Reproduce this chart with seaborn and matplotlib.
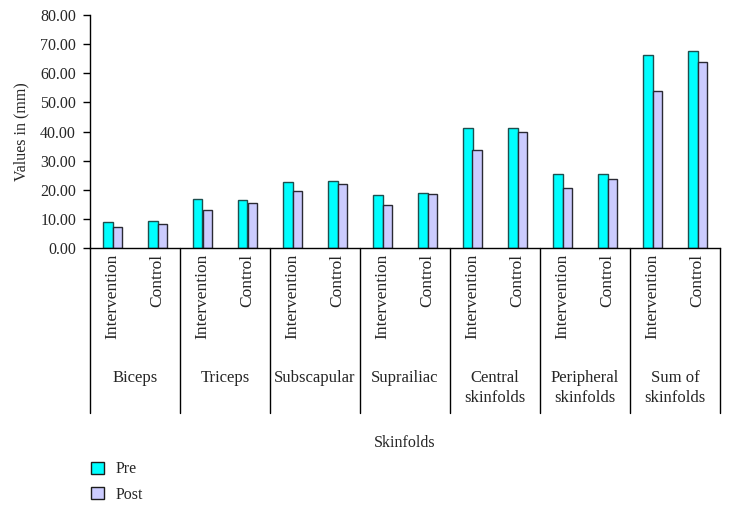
import matplotlib
matplotlib.use('Agg')
import matplotlib.pyplot as plt
import seaborn as sns
import pandas as pd
from matplotlib.transforms import blended_transform_factory

# ---- data ----
skinfolds = ["Biceps", "Triceps", "Subscapular", "Suprailiac",
             "Central\nskinfolds", "Peripheral\nskinfolds", "Sum of\nskinfolds"]
groups = ["Intervention", "Control"]
times = ["Pre", "Post"]
pre_values = [8.9, 9.3, 16.7, 16.4, 22.8, 23.1, 18.2, 19.0,
              41.1, 41.1, 25.5, 25.5, 66.2, 67.7]
post_values = [7.2, 8.4, 13.1, 15.6, 19.6, 22.0, 14.7, 18.5,
               33.7, 39.7, 20.5, 23.7, 54.0, 63.7]
y_ticks = [0, 10, 20, 30, 40, 50, 60, 70, 80]

# ---- long table ----
slots = [f"{s}|{g}" for s in skinfolds for g in groups]
rows = []
for k, slot in enumerate(slots):
    rows.append({"slot": slot, "time": "Pre", "value": pre_values[k]})
    rows.append({"slot": slot, "time": "Post", "value": post_values[k]})
df = pd.DataFrame(rows)

sns.set_style("ticks")
plt.rcParams['font.family'] = ['Liberation Serif', 'DejaVu Serif']
FS = 11.5
FSX = 12.5
FSG = 12

fig = plt.figure(figsize=(7.31, 5.07), dpi=100)
L, R, B, T = 90/731, 720/731, 1-248/507, 1-15/507
ax = fig.add_axes([L, B, R-L, T-B])

sns.barplot(data=df, x="slot", y="value", hue="time", order=slots,
            hue_order=times, palette={"Pre": "#00FFFF", "Post": "#CCCCFF"},
            width=0.41, saturation=1, errorbar=None, edgecolor="#1c1c1c",
            linewidth=1.0, ax=ax)

# edge colours per series
for bar, lbl in zip(ax.patches, ["Pre"]*len(slots) + ["Post"]*len(slots)):
    bar.set_edgecolor("#1d4f4f" if lbl == "Pre" else "#2a2a33")

handles, labels = ax.get_legend_handles_labels()
if ax.get_legend() is not None:
    ax.get_legend().remove()

ax.set_xlim(-0.5, len(slots)-0.5)
ax.set_ylim(0, 80)
ax.set_yticks(y_ticks)
ax.set_yticklabels([f"{v:.2f}" for v in y_ticks], fontsize=FS)
ax.set_xticks(range(len(slots)))
ax.set_xticklabels([g for s in skinfolds for g in groups], rotation=90,
                   fontsize=FSX, va="top", ha="center")
ax.tick_params(axis="x", length=0, pad=4)
ax.tick_params(axis="y", length=5, width=1, pad=5, color="black")
ax.set_xlabel("")
ax.set_ylabel("Values in (mm)", fontsize=FS, labelpad=8)
for sp in ["top", "right"]:
    ax.spines[sp].set_visible(False)
for sp in ["left", "bottom"]:
    ax.spines[sp].set_color("black")
    ax.spines[sp].set_linewidth(1.0)

# group separators and labels
trans = blended_transform_factory(ax.transData, ax.transAxes)
line_bottom = -(413-248)/233
for i in range(len(skinfolds)+1):
    xpos = 2*i - 0.5
    ax.plot([xpos, xpos], [0, line_bottom], transform=trans, color="black",
            lw=1.0, clip_on=False)
for i, s in enumerate(skinfolds):
    ax.text(2*i+0.5, -(370-248)/233, s, transform=trans, ha="center",
            va="top", fontsize=FSG, linespacing=1.3)

ax.text(0.5, -(443-248)/233, "Skinfolds", transform=ax.transAxes,
        ha="center", va="center", fontsize=FS)

fig.legend(handles, labels, loc="upper left",
           bbox_to_anchor=(80/731, 1-450/507), frameon=False, fontsize=FS,
           handlelength=0.8, handleheight=0.8, handletextpad=0.7,
           labelspacing=0.6, borderpad=0.2)

fig.savefig("out.png", dpi=100)
